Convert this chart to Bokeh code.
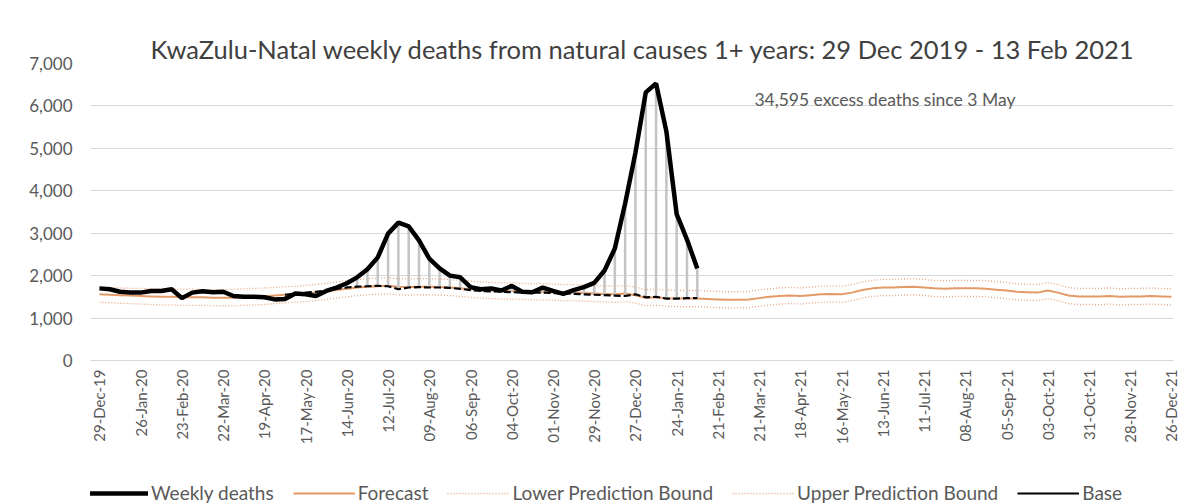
import numpy as np
from bokeh.plotting import figure
from bokeh.layouts import column
from bokeh.models import (FixedTicker, NumeralTickFormatter, Legend, LegendItem,
                          Label, Range1d)
from bokeh.embed import file_html
from bokeh.resources import INLINE

title_text = "KwaZulu-Natal weekly deaths from natural causes 1+ years: 29 Dec 2019 - 13 Feb 2021"
note_text = "34,595 excess deaths since 3 May"

tick_labels = ["29-Dec-19", "26-Jan-20", "23-Feb-20", "22-Mar-20", "19-Apr-20", "17-May-20",
               "14-Jun-20", "12-Jul-20", "09-Aug-20", "06-Sep-20", "04-Oct-20", "01-Nov-20",
               "29-Nov-20", "27-Dec-20", "24-Jan-21", "21-Feb-21", "21-Mar-21", "18-Apr-21",
               "16-May-21", "13-Jun-21", "11-Jul-21", "08-Aug-21", "05-Sep-21", "03-Oct-21",
               "31-Oct-21", "28-Nov-21", "26-Dec-21"]

# weekly deaths, week 0 = 29 Dec 2019 ... week 58 = 7 Feb 2021
weekly_deaths = [1700, 1680, 1620, 1600, 1600,
                 1640, 1640, 1680, 1470, 1600,
                 1630, 1610, 1620, 1520, 1500,
                 1500, 1490, 1440, 1450, 1580,
                 1560, 1520, 1640, 1720, 1820,
                 1960, 2150, 2430, 2990, 3250,
                 3160, 2830, 2400, 2170, 2000,
                 1960, 1730, 1680, 1700, 1650,
                 1760, 1620, 1610, 1720, 1640,
                 1570, 1660, 1730, 1830, 2120,
                 2640, 3700, 4900, 6320, 6530,
                 5400, 3450, 2850, 2170]

forecast = [1560, 1550, 1540, 1530, 1520,
            1510, 1500, 1500, 1490, 1490,
            1490, 1480, 1480, 1480, 1490,
            1500, 1510, 1530, 1550, 1560,
            1580, 1600, 1630, 1660, 1690,
            1720, 1740, 1750, 1760, 1740,
            1730, 1740, 1740, 1730, 1720,
            1700, 1680, 1660, 1650, 1640,
            1640, 1630, 1620, 1620, 1610,
            1600, 1600, 1590, 1580, 1570,
            1560, 1580, 1540, 1480, 1490,
            1470, 1460, 1460, 1460, 1450,
            1440, 1430, 1430, 1440, 1470,
            1500, 1520, 1530, 1520, 1540,
            1560, 1570, 1560, 1600, 1660,
            1700, 1720, 1720, 1730, 1740,
            1720, 1700, 1690, 1700, 1700,
            1700, 1690, 1670, 1650, 1620,
            1610, 1600, 1650, 1600, 1530,
            1510, 1510, 1510, 1520, 1500,
            1510, 1510, 1520, 1510, 1500]

upper_bound = [1720, 1720, 1710, 1700, 1700,
               1690, 1690, 1680, 1680, 1680,
               1670, 1670, 1670, 1680, 1690,
               1700, 1710, 1720, 1740, 1750,
               1770, 1790, 1820, 1850, 1880,
               1910, 1930, 1940, 1950, 1930,
               1920, 1930, 1930, 1920, 1910,
               1890, 1870, 1850, 1840, 1830,
               1830, 1820, 1810, 1810, 1800,
               1790, 1790, 1780, 1770, 1760,
               1750, 1770, 1730, 1670, 1680,
               1660, 1650, 1650, 1650, 1640,
               1630, 1620, 1620, 1630, 1660,
               1690, 1710, 1720, 1710, 1730,
               1750, 1760, 1750, 1790, 1850,
               1890, 1910, 1910, 1920, 1930,
               1910, 1890, 1880, 1890, 1890,
               1890, 1880, 1860, 1840, 1810,
               1800, 1790, 1840, 1790, 1720,
               1700, 1700, 1700, 1710, 1690,
               1700, 1700, 1710, 1700, 1690]

lower_bound = [1370, 1360, 1350, 1340, 1330,
               1320, 1310, 1310, 1300, 1300,
               1300, 1290, 1290, 1290, 1300,
               1310, 1320, 1340, 1360, 1370,
               1390, 1410, 1440, 1470, 1500,
               1530, 1550, 1560, 1570, 1550,
               1540, 1550, 1550, 1540, 1530,
               1510, 1490, 1470, 1460, 1450,
               1450, 1440, 1430, 1430, 1420,
               1410, 1410, 1400, 1390, 1380,
               1370, 1390, 1350, 1290, 1300,
               1280, 1270, 1270, 1270, 1260,
               1250, 1240, 1240, 1250, 1280,
               1310, 1330, 1340, 1330, 1350,
               1370, 1380, 1370, 1410, 1470,
               1510, 1530, 1530, 1540, 1550,
               1530, 1510, 1500, 1510, 1510,
               1510, 1500, 1480, 1460, 1430,
               1420, 1410, 1460, 1410, 1340,
               1320, 1320, 1320, 1330, 1310,
               1320, 1320, 1330, 1320, 1310]

base_start_week = 18  # 3 May 2020
base = [1550, 1570, 1600, 1620, 1650,
        1690, 1720, 1740, 1750, 1760,
        1750, 1680, 1720, 1730, 1720,
        1720, 1710, 1690, 1660, 1640,
        1630, 1620, 1610, 1600, 1600,
        1600, 1590, 1580, 1570, 1560,
        1550, 1540, 1530, 1520, 1560,
        1490, 1500, 1460, 1460, 1470, 1470]

series_names = ["Weekly deaths", "Forecast", "Lower Prediction Bound",
                "Upper Prediction Bound", "Base"]

weeks_all = list(range(len(forecast)))
weeks_obs = list(range(len(weekly_deaths)))
weeks_base = list(range(base_start_week, base_start_week + len(base)))
obs_at_base = [weekly_deaths[w] for w in weeks_base]

FONT = "Lato"
GREY_TXT = "#595959"
ORANGE = "#E39A68"
ORANGE_DOT = "#E8A47A"

p = figure(frame_width=1083, frame_height=297, output_backend="svg", toolbar_location=None,
           x_range=Range1d(-0.87, 104.2), y_range=Range1d(0, 7000),
           min_border_left=90, min_border_right=6, min_border_top=63,
           min_border_bottom=90)
p.outline_line_color = None
p.background_fill_color = "white"
p.border_fill_color = "white"

p.title.text = title_text
p.title.align = "left"
p.title.offset = 60
p.title.text_font = FONT
p.title.text_font_size = "25.5px"
p.title.text_font_style = "normal"
p.title.text_color = "#404040"
p.title.standoff = 0

# axes
p.yaxis.ticker = FixedTicker(ticks=list(range(0, 7001, 1000)))
p.yaxis.formatter = NumeralTickFormatter(format="0,0")
p.yaxis.axis_line_color = None
p.yaxis.major_tick_line_color = None
p.yaxis.minor_tick_line_color = None
p.yaxis.major_label_text_font = FONT
p.yaxis.major_label_text_font_size = "17px"
p.yaxis.major_label_text_color = GREY_TXT
p.yaxis.major_label_standoff = 12

tick_pos = list(range(0, 105, 4))
p.xaxis.ticker = FixedTicker(ticks=tick_pos)
p.xaxis.major_label_overrides = {t: lab for t, lab in zip(tick_pos, tick_labels)}
p.xaxis.major_label_orientation = np.pi / 2
p.xaxis.axis_line_color = "#D9D9D9"
p.xaxis.major_tick_line_color = None
p.xaxis.minor_tick_line_color = None
p.xaxis.major_label_text_font = FONT
p.xaxis.major_label_text_font_size = "15px"
p.xaxis.major_label_text_color = GREY_TXT
p.xaxis.major_label_standoff = 3

p.xgrid.grid_line_color = None
p.ygrid.grid_line_color = "#D9D9D9"
p.ygrid.grid_line_width = 1

# series
p.line(weeks_all, lower_bound, line_color=ORANGE_DOT, line_width=1.3, line_dash="1 2")
p.line(weeks_all, upper_bound, line_color=ORANGE_DOT, line_width=1.3, line_dash="1 2")
p.line(weeks_all, forecast, line_color=ORANGE, line_width=2)
p.segment(x0=weeks_base, y0=base, x1=weeks_base, y1=obs_at_base,
          line_color="#C4C4C4", line_width=2.5)
p.line(weeks_base, base, line_color="black", line_width=2.2, line_dash="7 3")
p.line(weeks_obs, weekly_deaths, line_color="black", line_width=4.5)

p.add_layout(Label(x=76.2, y=6150, text=note_text, text_align="center",
                   text_baseline="middle", text_font=FONT, text_font_size="17.5px",
                   text_color=GREY_TXT))

# ---- legend strip (separate small figure under the chart) ----
lg = figure(width=1179, height=54, output_backend="svg", toolbar_location=None,
            x_range=Range1d(0, 1), y_range=Range1d(0, 1),
            x_axis_type=None, y_axis_type=None, min_border=0)
lg.outline_line_color = None
lg.xgrid.visible = False
lg.ygrid.visible = False
nan = [np.nan]
s_obs = lg.line(nan, nan, line_color="black", line_width=4.5)
s_fc = lg.line(nan, nan, line_color=ORANGE, line_width=2)
s_low = lg.line(nan, nan, line_color=ORANGE_DOT, line_width=1.3, line_dash="1 2")
s_up = lg.line(nan, nan, line_color=ORANGE_DOT, line_width=1.3, line_dash="1 2")
s_base = lg.line(nan, nan, line_color="black", line_width=2.2)

legend = Legend(items=[LegendItem(label=n, renderers=[r]) for n, r in
                       zip(series_names, [s_obs, s_fc, s_low, s_up, s_base])],
                orientation="horizontal", location=(-4, 0))
legend.label_text_font = FONT
legend.label_text_font_size = "19px"
legend.label_text_color = GREY_TXT
legend.glyph_width = 62
legend.glyph_height = 20
legend.label_height = 20
legend.label_standoff = 3
legend.spacing = 19
legend.padding = 0
legend.margin = 0
legend.border_line_color = None
legend.background_fill_alpha = 0
lg.add_layout(legend, "center")

layout = column(p, lg, spacing=0)
open("out.html", "w").write(file_html(layout, INLINE))
